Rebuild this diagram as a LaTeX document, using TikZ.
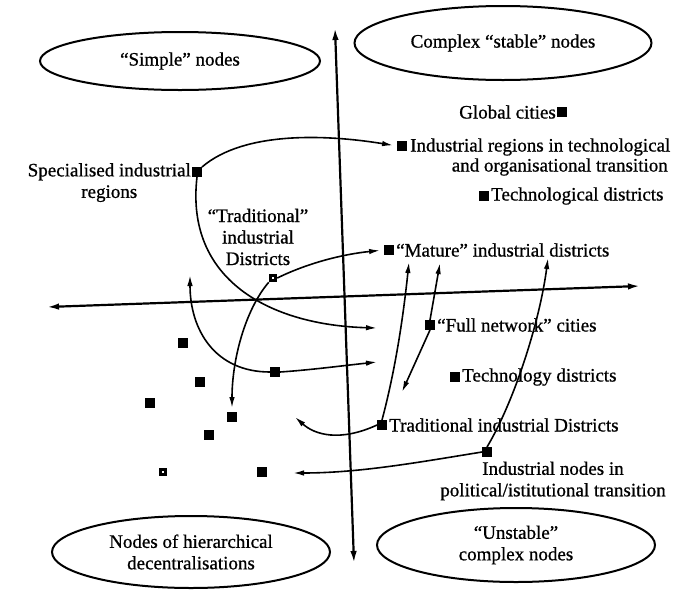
\documentclass[tikz,border=0pt]{standalone}
\usepackage{fontspec}
\setmainfont{Liberation Serif}[FakeBold=0.8]
\usetikzlibrary{arrows.meta,shapes.geometric}
\begin{document}
\begin{tikzpicture}[x=1pt,y=-1pt,
  lbl/.style={font=\fontsize{19}{21.5}\selectfont, inner sep=0pt},
  sq/.style={fill=black, minimum size=9.5pt, inner sep=0pt},
  hsq/.style={draw=black, line width=3pt, fill=white, minimum size=5.5pt, inner sep=0pt},
  oval/.style={ellipse, draw, line width=2pt, inner sep=0pt, align=center,
               font=\fontsize{19}{21.5}\selectfont},
  link/.style={line width=1.6pt, -{Latex[length=11pt,width=5.5pt]}},
  axis/.style={line width=2.2pt, {Latex[length=12pt,width=6.5pt]}-{Latex[length=12pt,width=6.5pt]}}]
\useasboundingbox (0,0) rectangle (673,590);

% category ovals
\node[oval, minimum width=280pt, minimum height=58pt] (simple) at (180,61) {“Simple” nodes};
\node[oval, minimum width=297pt, minimum height=74pt] (stable) at (503,43) {Complex “stable” nodes};
\node[oval, minimum width=278pt, minimum height=72pt] (hier) at (191,552) {Nodes of hierarchical\\decentralisations};
\node[oval, minimum width=278pt, minimum height=74pt] (unstable) at (516,545) {“Unstable”\\complex nodes};

% axes
\coordinate (vtop) at (335,28);
\coordinate (vbot) at (354,563);
\coordinate (hleft) at (47,307);
\coordinate (hright) at (640,286);
\draw[axis] (vbot) -- (vtop);
\draw[axis] (hleft) -- (hright);

% upper right nodes
\node[sq] (GC) at (562,112) {};
\node[lbl, anchor=east] (GCt) at ([xshift=-6pt]GC.center) {Global cities};
\node[sq] (IR) at (402,146) {};
\node[lbl, anchor=west] (IRt1) at (410,147) {Industrial regions in technological};
\node[lbl, anchor=east] (IRt2) at (668,167) {and organisational transition};
\node[sq] (TG) at (484,196) {};
\node[lbl, anchor=west] (TGt) at (491,196) {Technological districts};
\node[sq] (M) at (389,250) {};
\node[lbl, anchor=west] (Mt) at (396,250) {“Mature” industrial districts};

% lower right nodes
\node[sq] (FN) at (430,325) {};
\node[lbl, anchor=west] (FNt) at (437,325) {“Full network” cities};
\node[sq] (TY) at (455,377) {};
\node[lbl, anchor=west] (TYt) at (462,377) {Technology districts};
\node[sq] (TD) at (382,425) {};
\node[lbl, anchor=west] (TDt) at (389,425) {Traditional industrial Districts};
\node[sq] (IN) at (487,452) {};
\node[lbl, align=center] (INt) at (553,481) {Industrial nodes in\\political/istitutional transition};

% upper left nodes
\node[sq] (S) at (197,172) {};
\node[lbl, anchor=north east, align=center] (St) at (191,163) {Specialised industrial\\regions};
\node[hsq] (T) at (273,278) {};
\node[lbl, align=center] (Tt) at (258,237) {“Traditional”\\industrial\\Districts};

% lower left nodes
\node[sq] (P) at (275,372) {};
\node[sq] (L1) at (183,343) {};
\node[sq] (L2) at (200,382) {};
\node[sq] (L3) at (150,403) {};
\node[sq] (D1) at (232,417) {};
\node[sq] (L4) at (209,435) {};
\node[hsq] (L5) at (163,472) {};
\node[sq] (L6) at (262,472) {};

% free arrow ends
\coordinate (bEnd) at (377,328);
\coordinate (eL) at (190,275);
\coordinate (eR) at (377,362);
\coordinate (fL) at (295,417);
\coordinate (fU) at (409,262);
\coordinate (gU) at (440,263);
\coordinate (gD) at (402,392);
\coordinate (hU) at (548,258);
\coordinate (hL) at (293,473);

% trajectories
\draw[link, shorten >=4pt] (S.north east) .. controls (245,130) and (330,135) .. (IR.west);
\draw[link] (S.south) .. controls (185,280) and (270,325) .. (bEnd);
\draw[link, shorten >=4pt] (T.east) .. controls (310,262) and (345,254) .. (M.west);
\draw[link, shorten >=4pt] (T.south west) .. controls (245,310) and (232,360) .. (D1.north);
\draw[link] (P.west) .. controls (215,372) and (190,330) .. (eL);
\draw[link] (P.east) .. controls (310,370) and (340,366) .. (eR);
\draw[link] (TD.west) .. controls (340,442) and (315,435) .. (fL);
\draw[link] (TD.north) .. controls (398,360) and (405,300) .. (fU);
\draw[link] (FN.north) -- (gU);
\draw[link] (FN.south) -- (gD);
\draw[link] (IN.north) .. controls (515,400) and (540,320) .. (hU);
\draw[link] (IN.west) .. controls (420,462) and (360,473) .. (hL);
\end{tikzpicture}
\end{document}
